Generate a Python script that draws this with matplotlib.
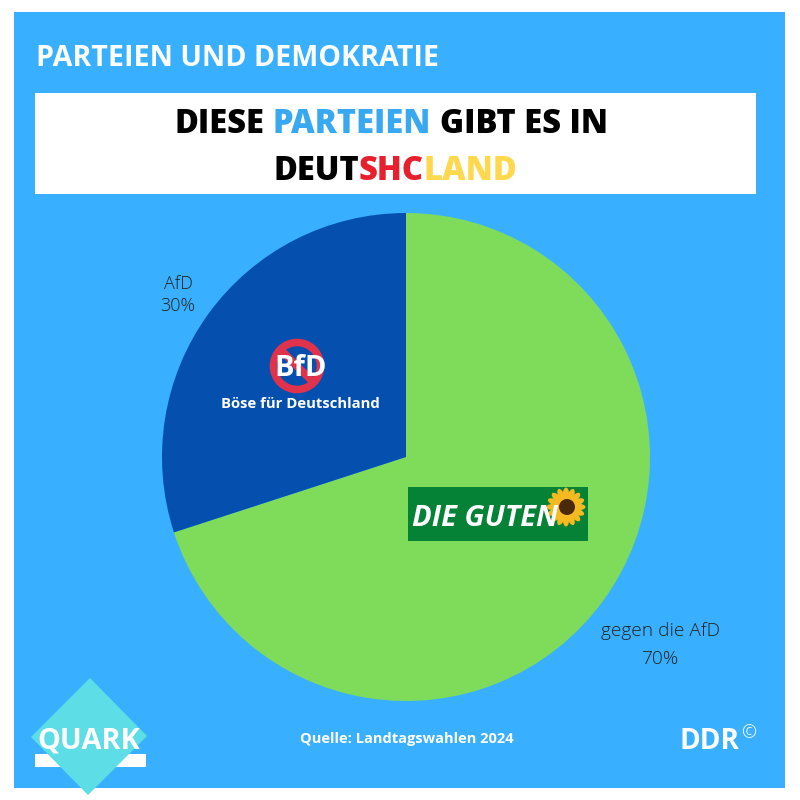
import numpy as np
import matplotlib
matplotlib.use('Agg')
import matplotlib.pyplot as plt
from matplotlib.patches import Rectangle, Circle, Ellipse, Polygon

labels = ['gegen die AfD', 'AfD']
shares = [70, 30]
colors = ['#7FDB5A', '#0550AE']

BLUE = '#38B0FF'
plt.rcParams['font.family'] = ['Open Sans', 'DejaVu Sans']


def Y(py):
    # pixel position from the top of the picture
    return 800 - py


fig = plt.figure(figsize=(8, 8), dpi=100)
ax = fig.add_axes([0, 0, 1, 1])
ax.set_xlim(0, 800)
ax.set_ylim(0, 800)
ax.axis('off')

# background
ax.add_patch(Rectangle((14, Y(788)), 771, 776, fc=BLUE, ec='none', zorder=0))
ax.add_patch(Rectangle((35, Y(194)), 721, 101, fc='white', ec='none', zorder=1))

ax.text(36, Y(58), 'PARTEIEN UND DEMOKRATIE', color='white', fontsize=20.65,
        fontweight='bold', va='center', ha='left', zorder=3)


def multi(parts, xc, y, size):
    # centred line with several colours, measured piece by piece
    r = fig.canvas.get_renderer()
    widths = []
    for s, c in parts:
        t = ax.text(0, 0, s, fontsize=size, fontweight='black')
        widths.append(t.get_window_extent(r).width)
        t.remove()
    x = xc - sum(widths) / 2
    for (s, c), w in zip(parts, widths):
        ax.text(x, y, s, color=c, fontsize=size, fontweight='black', va='center',
                ha='left', zorder=3)
        x += w


multi([('DIESE', 'black'), ('\u00a0', 'black'), ('PARTEIEN', '#38A9F0'), ('\u00a0', 'black'),
       ('GIBT ES IN', 'black')], 391, Y(124), 23.5)
multi([('DEUT', 'black'), ('SHC', '#E8202E'), ('LAND', '#FFD84D')], 395.5, Y(171), 23.5)

# pie
ax.pie(shares, colors=colors, startangle=90, counterclock=False, center=(406, Y(457)),
       radius=244, frame=True, wedgeprops={'linewidth': 0, 'zorder': 2})
ax.set_xlim(0, 800)
ax.set_ylim(0, 800)
ax.axis('off')

ax.text(178, Y(295), f'{labels[1]}\n{shares[1]}%', color='#222222', fontsize=13, fontweight='light',
        ha='center', va='center', linespacing=1.35, zorder=3)
ax.text(660.5, Y(645), f'{labels[0]}\n{shares[0]}%', color='#222222', fontsize=13.8, fontweight='light',
        ha='center', va='center', linespacing=1.75, zorder=3)

# BfD badge
ax.add_patch(Circle((297, Y(366)), 23.5, fc='none', ec='#E0324B', lw=5.5, zorder=3))
ax.plot([281, 313], [Y(350), Y(382)], color='#E0324B', lw=5.5, solid_capstyle='butt', zorder=3)
ax.text(300.5, Y(369), 'BfD', color='white', fontsize=21, fontweight='bold', ha='center',
        va='center', zorder=4)
ax.text(300.5, Y(404.5), 'Böse für Deutschland', color='white', fontsize=10.7, fontweight='bold',
        ha='center', va='center', zorder=4)

# DIE GUTEN badge
ax.add_patch(Rectangle((408, Y(541)), 180, 54, fc='#068236', ec='none', zorder=3))
for a in np.arange(0, 360, 22.5):
    ax.add_patch(Ellipse((566 + 12 * np.cos(np.radians(a)), Y(507) + 12 * np.sin(np.radians(a))),
                         15, 6.5, angle=a, fc='#F5B921', ec='none', zorder=4))
ax.add_patch(Circle((567, Y(507)), 8, fc='#4A2A0A', ec='none', zorder=5))
ax.text(412, Y(518), 'DIE GUTEN', color='white', fontsize=21, fontweight='bold', style='italic',
        ha='left', va='center', zorder=6)

# footer
ax.add_patch(Rectangle((35, Y(767)), 111, 13, fc='white', ec='none', zorder=2))
ax.add_patch(Polygon([(90, Y(678)), (147, Y(736)), (88, Y(795)), (31, Y(737))], fc='#5DDDE6',
                     ec='none', zorder=3))
ax.text(89, Y(741), 'QUARK', color='white', fontsize=20.8, fontweight='bold', ha='center',
        va='center', zorder=4)
ax.text(407, Y(739), 'Quelle: Landtagswahlen 2024', color='white', fontsize=10.5, fontweight='bold',
        ha='center', va='center', zorder=4)
ax.text(679, Y(741.5), 'DDR', color='white', fontsize=20.2, fontweight='bold', ha='left', va='center',
        zorder=4)
ax.text(749, Y(733), '©', color='white', fontsize=13, fontweight='light', ha='center', va='center',
        zorder=4)

fig.savefig('out.png', dpi=100)
